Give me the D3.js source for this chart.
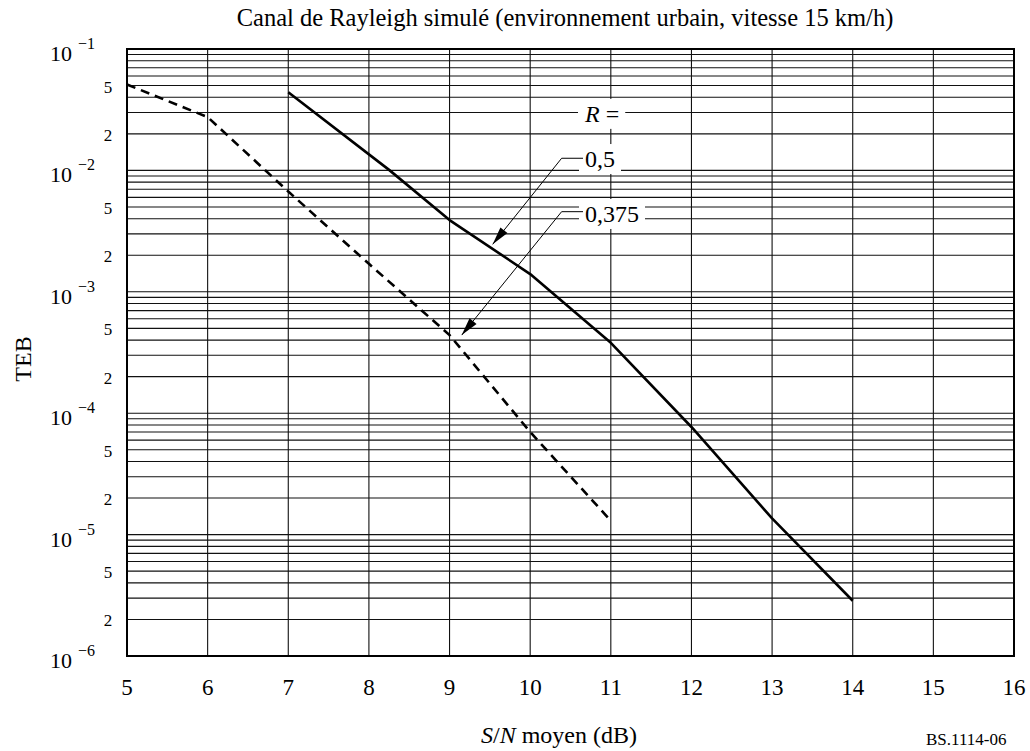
<!DOCTYPE html>
<html>
<head>
<meta charset="utf-8">
<script src="https://cdn.jsdelivr.net/npm/d3@7"></script>
<style>
  html, body { margin: 0; padding: 0; background: #fff; }
  text { font-family: "Liberation Serif", "Times New Roman", serif; fill: #000; }
</style>
</head>
<body>
<div id="chart"></div>
<script>
// ---- data ----
const titleText = "Canal de Rayleigh simulé (environnement urbain, vitesse 15 km/h)";
const xTicks = [5, 6, 7, 8, 9, 10, 11, 12, 13, 14, 15, 16];
const yDecadeExps = [-1, -2, -3, -4, -5, -6];
const yMinorValues = [5e-2, 2e-2, 5e-3, 2e-3, 5e-4, 2e-4, 5e-5, 2e-5, 5e-6, 2e-6];
const yMinorLabels = ["5", "2", "5", "2", "5", "2", "5", "2", "5", "2"];

// R = 0,5 (solid)
const snrR05 = [7, 8.25, 9, 10, 11, 12, 13, 14];
const tebR05 = [0.044, 0.0101, 0.0039, 0.0014, 0.00038, 7.7e-5, 1.36e-5, 2.85e-6];
// R = 0,375 (dashed)
const snrR0375 = [5, 6, 7, 8, 9, 10, 11];
const tebR0375 = [0.051, 0.0275, 0.0067, 0.0017, 0.00044, 7.0e-5, 1.3e-5];

// annotation labels (data coordinates)
const annLabels = ["R =", "0,5", "0,375"];
const annX = [10.68, 10.68, 10.68];
const annY = [0.0251, 0.01066, 0.00376];
// leaders: elbow and arrow tip (data coordinates), for "0,5" and "0,375"
const leaderIdx = [1, 2];
const elbowX = [10.39, 10.39];
const elbowY = [0.01259, 0.00457];
const tipX = [9.535, 9.151];
const tipY = [0.00246, 0.00044];

// ---- layout ----
const W = 1030, H = 751;
const L = 127, T = 49, R = 1014, B = 656;

const svg = d3.select("#chart").append("svg")
  .attr("width", W).attr("height", H)
  .style("display", "block");
svg.append("rect").attr("width", W).attr("height", H).attr("fill", "#fff");

const x = d3.scaleLinear().domain([5, 16]).range([L, R]);
const y = d3.scaleLog().domain([1e-6, 1e-1]).range([B, T]);

// grid
const grid = svg.append("g");
grid.selectAll("line.h").data(y.ticks()).join("line")
  .attr("x1", L).attr("x2", R)
  .attr("y1", d => y(d)).attr("y2", d => y(d))
  .attr("stroke", "#111").attr("stroke-width", 1.1);
grid.selectAll("line.v").data(xTicks).join("line")
  .attr("y1", T).attr("y2", B)
  .attr("x1", d => x(d)).attr("x2", d => x(d))
  .attr("stroke", "#111").attr("stroke-width", 1.1);

// frame
svg.append("rect").attr("x", L).attr("y", T).attr("width", R - L).attr("height", B - T)
  .attr("fill", "none").attr("stroke", "#000").attr("stroke-width", 2);

// curves
const line = d3.line().x(d => x(d[0])).y(d => y(d[1]));
svg.append("path").datum(snrR05.map((s, i) => [s, tebR05[i]]))
  .attr("d", line).attr("fill", "none").attr("stroke", "#000")
  .attr("stroke-width", 2.6).attr("stroke-linejoin", "round");
svg.append("path").datum(snrR0375.map((s, i) => [s, tebR0375[i]]))
  .attr("d", line).attr("fill", "none").attr("stroke", "#000")
  .attr("stroke-width", 2.6).attr("stroke-dasharray", "9,6");

// annotation labels with white boxes
const annG = svg.append("g");
annLabels.forEach((lab, i) => {
  const t = annG.append("text")
    .attr("x", x(annX[i])).attr("y", y(annY[i]))
    .attr("font-size", 24);
  if (lab.startsWith("R")) {
    t.append("tspan").attr("font-style", "italic").text("R");
    t.append("tspan").text(" =");
  } else {
    t.text(lab);
  }
  const bb = t.node().getBBox();
  annG.insert("rect", "text")
    .attr("x", bb.x - 6).attr("y", bb.y - 2)
    .attr("width", bb.width + 12).attr("height", bb.height + 4)
    .attr("fill", "#fff");
});

// leaders with arrows
leaderIdx.forEach((li, k) => {
  const sx = x(annX[li]) - 2, sy = y(elbowY[k]);
  const ex = x(elbowX[k]), ey = y(elbowY[k]);
  const tx = x(tipX[k]), ty = y(tipY[k]);
  svg.append("path")
    .attr("d", `M${sx},${sy}L${ex},${ey}L${tx},${ty}`)
    .attr("fill", "none").attr("stroke", "#000").attr("stroke-width", 1);
  const ang = Math.atan2(ty - ey, tx - ex);
  const len = 18, hw = 4.5;
  const bx = tx - len * Math.cos(ang), by = ty - len * Math.sin(ang);
  const px = -Math.sin(ang) * hw, py = Math.cos(ang) * hw;
  svg.append("path")
    .attr("d", `M${tx},${ty}L${bx + px},${by + py}L${bx - px},${by - py}Z`)
    .attr("fill", "#000");
});

// x tick labels
svg.append("g").selectAll("text").data(xTicks).join("text")
  .attr("x", d => x(d)).attr("y", 695)
  .attr("text-anchor", "middle").attr("font-size", 23)
  .text(d => d);

// y decade labels
const yl = svg.append("g");
yDecadeExps.forEach(e => {
  const v = Math.pow(10, e);
  yl.append("text").attr("x", 72).attr("y", y(v) + 12)
    .attr("text-anchor", "end").attr("font-size", 22).text("10");
  yl.append("text").attr("x", 78).attr("y", y(v) + 0)
    .attr("text-anchor", "start").attr("font-size", 16).text("\u2212" + Math.abs(e));
});
yl.selectAll("text.minor").data(yMinorValues).join("text")
  .attr("x", 108).attr("y", d => y(d) + 7)
  .attr("text-anchor", "middle").attr("font-size", 17)
  .text((d, i) => yMinorLabels[i]);

// title
svg.append("text").attr("x", 565).attr("y", 26)
  .attr("text-anchor", "middle").attr("font-size", 24.5).text(titleText);

// x axis title
const xt = svg.append("text").attr("x", 559).attr("y", 743)
  .attr("text-anchor", "middle").attr("font-size", 24);
xt.append("tspan").attr("font-style", "italic").text("S");
xt.append("tspan").text("/");
xt.append("tspan").attr("font-style", "italic").text("N");
xt.append("tspan").text(" moyen (dB)");

// y axis title
svg.append("text").attr("transform", "translate(31,359) rotate(-90)")
  .attr("text-anchor", "middle").attr("font-size", 24).text("TEB");

// figure id
svg.append("text").attr("x", 926).attr("y", 745)
  .attr("font-size", 17).text("BS.1114-06");
</script>
</body>
</html>
